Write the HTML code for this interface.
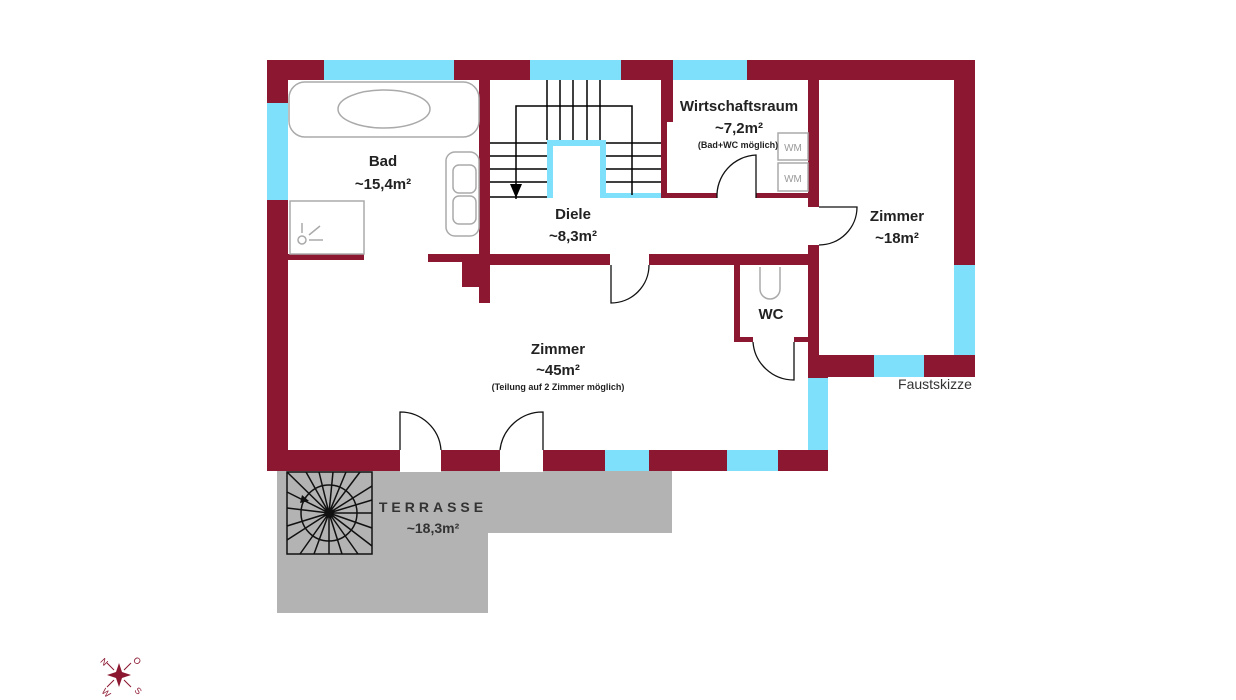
<!DOCTYPE html>
<html><head><meta charset="utf-8"><style>
html,body{margin:0;padding:0;background:#fff}
svg{display:block}
text{font-family:"Liberation Sans",sans-serif}
.b{font-weight:bold;font-size:15px;fill:#222}
.s{font-weight:bold;font-size:9px;fill:#222}
</style></head><body>
<svg width="1236" height="700" viewBox="0 0 1236 700" xmlns="http://www.w3.org/2000/svg">
<path d="M277 470H672V533H488V613H277Z" fill="#b3b3b3"/>
<g fill="#8b1730">
<rect x="267" y="60" width="708" height="20"/>
<rect x="267" y="60" width="21" height="411"/>
<rect x="267" y="450" width="561" height="21"/>
<rect x="954" y="60" width="21" height="317"/>
<rect x="808" y="355" width="167" height="22"/>
<rect x="808" y="355" width="20" height="116"/>
<rect x="479" y="80" width="11" height="223"/>
<rect x="462" y="255" width="28" height="32"/>
<rect x="288" y="254" width="76" height="6"/>
<rect x="428" y="254" width="51" height="8"/>
<rect x="490" y="254" width="120" height="11"/>
<rect x="649" y="254" width="170" height="11"/>
<rect x="661" y="80" width="12" height="42"/>
<rect x="661" y="80" width="6" height="118"/>
<rect x="661" y="193" width="56" height="5"/>
<rect x="756" y="193" width="52" height="5"/>
<rect x="808" y="80" width="11" height="127"/>
<rect x="808" y="245" width="11" height="132"/>
<rect x="734" y="265" width="6" height="77"/>
<rect x="734" y="337" width="19" height="5"/>
<rect x="794" y="337" width="14" height="5"/>
</g>
<g fill="#7fe0fb">
<rect x="324" y="60" width="130" height="20"/>
<rect x="530" y="60" width="91" height="20"/>
<rect x="673" y="60" width="74" height="20"/>
<rect x="267" y="103" width="21" height="97"/>
<rect x="954" y="265" width="21" height="90"/>
<rect x="874" y="355" width="50" height="22"/>
<rect x="808" y="378" width="20" height="72"/>
<rect x="605" y="450" width="44" height="21"/>
<rect x="727" y="450" width="51" height="21"/>
<rect x="547" y="140" width="6" height="58"/>
<rect x="547" y="140" width="59" height="6"/>
<rect x="600" y="140" width="6" height="58"/>
<rect x="600" y="193" width="61" height="5"/>
</g>
<g fill="#fff">
<rect x="400" y="449" width="41" height="23"/>
<rect x="500" y="449" width="43" height="23"/>
</g>
<g stroke="#000" stroke-width="1.5" fill="none">
<path d="M547 80V140M560 80V106M573 80V106M587 80V106M600 80V140"/>
<path d="M560 106V140M573 106V140M587 106V140"/>
<path d="M516 199V106H632V195"/>
<path d="M490 143H547M490 156H547M490 169H547M490 182H547M490 197H547"/>
<path d="M606 156H661M606 169H661M606 182H661M606 143H661"/>
</g>
<path d="M510 184L522 184L516 198Z" fill="#000"/>
<g stroke="#aaa" stroke-width="1.5" fill="none">
<rect x="289" y="82" width="190" height="55" rx="16"/>
<ellipse cx="384" cy="109" rx="46" ry="19"/>
<rect x="446" y="152" width="33" height="84" rx="9"/>
<rect x="453" y="165" width="23" height="28" rx="6"/>
<rect x="453" y="196" width="23" height="28" rx="6"/>
<rect x="290" y="201" width="74" height="53"/>
<circle cx="302" cy="240" r="4"/>
<path d="M302 223V233M309 235L320 226M309 240H323"/>
<rect x="778" y="133" width="30" height="27"/>
<rect x="778" y="163" width="30" height="28"/>
<path d="M760 267V289A10 10 0 0 0 780 289V267"/>
</g>
<text x="793" y="151" font-size="10" fill="#999" text-anchor="middle">WM</text>
<text x="793" y="182" font-size="10" fill="#999" text-anchor="middle">WM</text>
<g stroke="#111" stroke-width="1.3" fill="none">
<path d="M611 265V303A38 38 0 0 0 649 265"/>
<path d="M756 198V155A41 41 0 0 0 717 198"/>
<path d="M819 207H857A38 38 0 0 1 819 245"/>
<path d="M794 342V380A41 41 0 0 1 753 342"/>
<path d="M400 450V412A41 41 0 0 1 441 450"/>
<path d="M543 450V412A43 43 0 0 0 500 450"/>
</g>
<g stroke="#111" stroke-width="1.5" fill="none">
<rect x="287" y="472" width="85" height="82"/>
<circle cx="329" cy="513" r="28"/>
<circle cx="329" cy="513" r="4" fill="#b3b3b3"/>
<path d="M329 513L287 472M329 513L306 472M329 513L319 472M329 513L333 472M329 513L346 472M329 513L360 472M329 513L372 486M329 513L372 500M329 513L372 513M329 513L372 528M329 513L372 546M329 513L358 554M329 513L342 554M329 513L329 554M329 513L314 554M329 513L300 554M329 513L287 540M329 513L287 526M329 513L287 508M329 513L287 492"/>
</g>
<path d="M302 495L309 501L300 503Z" fill="#111"/>
<g text-anchor="middle">
<text class="b" x="383" y="166">Bad</text>
<text class="b" x="383" y="189">~15,4m²</text>
<text class="b" x="573" y="219">Diele</text>
<text class="b" x="573" y="241">~8,3m²</text>
<text class="b" x="739" y="111">Wirtschaftsraum</text>
<text class="b" x="739" y="133">~7,2m²</text>
<text class="s" x="738" y="148">(Bad+WC möglich)</text>
<text class="b" x="897" y="221">Zimmer</text>
<text class="b" x="897" y="243">~18m²</text>
<text class="b" x="771" y="319">WC</text>
<text class="b" x="558" y="354">Zimmer</text>
<text class="b" x="558" y="375">~45m²</text>
<text class="s" x="558" y="390">(Teilung auf 2 Zimmer möglich)</text>
<text x="433" y="512" font-size="14" font-weight="bold" fill="#333" letter-spacing="4">TERRASSE</text>
<text class="b" x="433" y="533" style="font-size:14px;fill:#333">~18,3m²</text>
<text x="935" y="389" font-size="14" fill="#333">Faustskizze</text>
</g>
<g transform="translate(119,675)">
<path d="M0-12L3-3L12 0L3 3L0 12L-3 3L-12 0L-3-3Z" fill="#8b1730"/>
<g stroke="#8b1730" stroke-width="1" fill="none">
<path d="M-5-5L-12-12M5-5L12-12M-5 5L-12 12M5 5L12 12"/>
</g>
<g fill="#8b1730" font-size="9" text-anchor="middle">
<text transform="translate(-17,-11) rotate(45)">N</text>
<text transform="translate(16,-12) rotate(45)">O</text>
<text transform="translate(17,18) rotate(45)">S</text>
<text transform="translate(-15,20) rotate(45)">W</text>
</g>
</g>
</svg>
</body></html>
